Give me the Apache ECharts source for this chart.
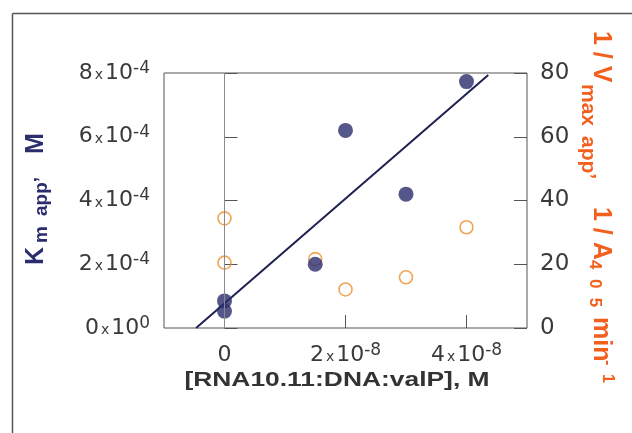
<!DOCTYPE html>
<html>
<head>
<meta charset="utf-8">
<script src="https://cdn.jsdelivr.net/npm/echarts@6/dist/echarts.min.js"></script>
<style>
  html, body { margin: 0; padding: 0; background: #fff; }
  #chart { width: 632px; height: 433px; }
</style>
</head>
<body>
<div id="chart"></div>
<script>
// Substrate concentration for each measurement, M
const concentration = [0, 0, 1.5e-8, 2e-8, 3e-8, 4e-8];
// Apparent Km at each concentration, M (left axis)
const kmApp = [0.85e-4, 0.53e-4, 2.0e-4, 6.2e-4, 4.2e-4, 7.73e-4];
// 1/Vmax,app at each concentration, 1/A405 min^-1 (right axis)
const invVmax = [34.4, 20.5, 21.6, 12.1, 15.9, 31.6];
// Linear fit of Km,app against concentration
const fitSlope = 1.644e4;
const fitIntercept = 0.77e-4;
const fitRange = [-0.47e-8, 4.36e-8];
// Tick values shown on the concentration axis
const xTickValues = [0, 2e-8, 4e-8];

const FONT = '"DejaVu Sans", "Liberation Sans", Arial, sans-serif';
const TITLE_FONT = '"Liberation Sans", Arial, Helvetica, sans-serif';
const LABEL_COLOR = '#3a3a3a';
const NAVY = '#2b2d6e';
const ORANGE = '#ec8f2c';
const TITLE_RED = '#f2601f';

function sciParts(v) {
  if (v === 0) return ['0', '0'];
  const e = Math.floor(Math.log10(Math.abs(v)) + 1e-9);
  const m = Math.round(v / Math.pow(10, e));
  return [String(m), String(e)];
}

const sciRich = {
  n: { fontSize: 22, fontFamily: FONT, color: LABEL_COLOR, lineHeight: 26 },
  x: { fontSize: 14, fontFamily: FONT, color: LABEL_COLOR, lineHeight: 26, padding: [5, 2, 0, 2] },
  e: { fontSize: 17, fontFamily: FONT, color: LABEL_COLOR, lineHeight: 14, verticalAlign: 'top' }
};

function sciLabel(v) {
  const p = sciParts(v);
  return '{n|' + p[0] + '}{x|x}{n|10}{e|' + p[1] + '}';
}

const fitData = fitRange.map(x => [x, fitIntercept + fitSlope * x]);

// Pieces of a rotated axis title: text, font size, offset along the reading
// direction, and baseline shift (positive = lowered, as a subscript).
function titlePieces(pieces, color) {
  return pieces.map(p => ({
    type: 'text',
    x: p[2],
    y: p[3] - 0.3465 * p[1],
    style: {
      text: p[0],
      font: 'bold ' + p[1] + 'px ' + TITLE_FONT,
      fill: color,
      textAlign: 'left',
      textVerticalAlign: 'middle'
    },
    silent: true
  }));
}

const chart = echarts.init(document.getElementById('chart'), null, { renderer: 'canvas' });

chart.setOption({
  animation: false,
  backgroundColor: '#fff',
  grid: {
    left: 164, right: 105, top: 73, bottom: 105,
    show: true, borderColor: '#555', borderWidth: 1, backgroundColor: 'transparent'
  },
  xAxis: {
    type: 'value',
    min: -1e-8, max: 5e-8, interval: 1e-8,
    axisLine: { show: false },
    splitLine: { show: false },
    axisTick: {
      show: true, inside: true, length: 13,
      customValues: xTickValues,
      lineStyle: { color: '#555', width: 1 }
    },
    axisLabel: {
      margin: 14,
      customValues: xTickValues,
      formatter: function (v) {
        if (Math.abs(v) < 1e-12) return '{n|0}';
        return sciLabel(v);
      },
      rich: sciRich
    }
  },
  yAxis: [
    {
      type: 'value',
      min: 0, max: 8e-4, interval: 2e-4,
      axisLine: { show: false },
      splitLine: { show: false },
      axisTick: { show: true, inside: true, length: 13, lineStyle: { color: '#555', width: 1 } },
      axisLabel: { margin: 14, formatter: sciLabel, rich: sciRich }
    },
    {
      type: 'value',
      min: 0, max: 80, interval: 20,
      position: 'right',
      axisLine: { show: false },
      splitLine: { show: false },
      axisTick: { show: true, inside: true, length: 13, lineStyle: { color: '#555', width: 1 } },
      axisLabel: {
        margin: 13,
        fontSize: 23, fontFamily: FONT, color: LABEL_COLOR
      }
    }
  ],
  series: [
    {
      name: 'fit',
      type: 'line',
      yAxisIndex: 0,
      data: fitData,
      showSymbol: false,
      silent: true,
      lineStyle: { color: '#1e2052', width: 2 },
      markLine: {
        silent: true,
        symbol: 'none',
        label: { show: false },
        lineStyle: { color: '#8a8a8a', width: 1, type: 'solid' },
        data: [{ xAxis: 0 }]
      },
      z: 2
    },
    {
      name: '1/Vmax,app',
      type: 'scatter',
      yAxisIndex: 1,
      data: concentration.map((c, i) => [c, invVmax[i]]),
      symbol: 'circle',
      symbolSize: 13,
      itemStyle: { color: 'rgba(255,255,255,0)', borderColor: ORANGE, borderWidth: 1.6 },
      z: 3
    },
    {
      name: 'Km,app',
      type: 'scatter',
      yAxisIndex: 0,
      data: concentration.map((c, i) => [c, kmApp[i]]),
      symbol: 'circle',
      symbolSize: 15,
      itemStyle: { color: NAVY },
      z: 4
    }
  ],
  graphic: [
    // outer frame
    { type: 'line', shape: { x1: 12.5, y1: 13.5, x2: 632, y2: 13.5 }, style: { stroke: '#555', lineWidth: 1.5 }, silent: true },
    { type: 'line', shape: { x1: 12.5, y1: 13.5, x2: 12.5, y2: 433 }, style: { stroke: '#555', lineWidth: 1.5 }, silent: true },
    // x axis title
    {
      type: 'text',
      x: 337, y: 380,
      scaleX: 1.32,
      style: {
        text: '[RNA10.11:DNA:valP], M',
        font: 'bold 20px ' + TITLE_FONT,
        fill: '#333',
        textAlign: 'center', textVerticalAlign: 'middle'
      },
      silent: true
    },
    // left axis title, reading upwards; baseline at x = 45
    {
      type: 'group',
      x: 45, y: 0,
      rotation: Math.PI / 2,
      children: titlePieces([
        ['K', 25, -265, 0],
        ['m', 19, -243, 3],
        ['app’', 19, -216, 3],
        ['M', 25, -154, 0]
      ], NAVY)
    },
    // right axis title, reading downwards; baseline at x = 592
    {
      type: 'group',
      x: 592, y: 0,
      rotation: -Math.PI / 2,
      children: titlePieces([
        ['1 / V', 25, 31, 0],
        ['max', 21, 84, 11],
        ['app’', 21, 136, 11],
        ['1 / A', 25, 207, 0],
        ['4  0  5', 17, 260, 3],
        ['min', 25, 317, 0],
        ['-', 16, 360, -10],
        ['1', 16, 374, -10]
      ], TITLE_RED)
    }
  ]
});
</script>
</body>
</html>
